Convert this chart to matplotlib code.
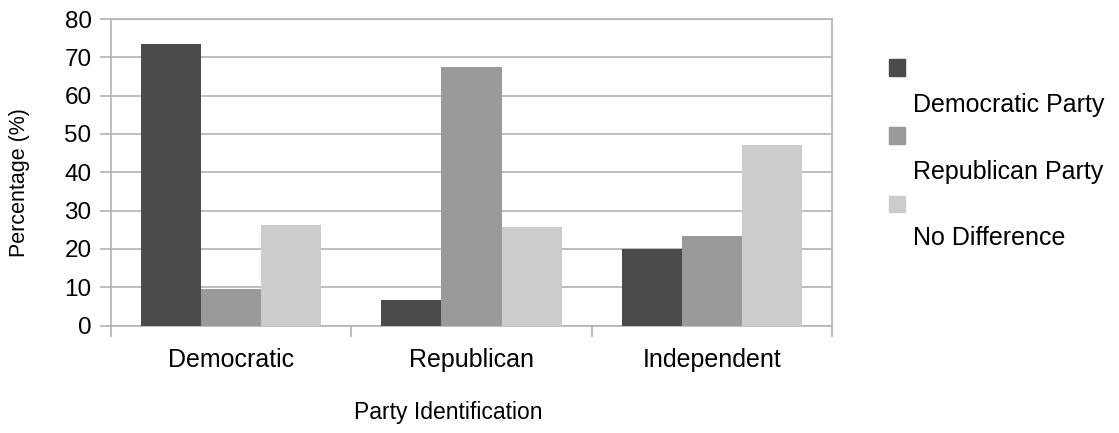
import numpy as np
import matplotlib.pyplot as plt
from matplotlib.patches import Rectangle

plt.rcParams['font.family'] = ['Liberation Sans', 'DejaVu Sans']

categories = ["Democratic", "Republican", "Independent"]
series_names = ["Democratic Party", "Republican Party", "No Difference"]
dem_party = [73.5, 6.6, 20.0]
rep_party = [9.6, 67.4, 23.3]
no_diff = [26.2, 25.7, 47.1]
series_values = [dem_party, rep_party, no_diff]
colors = ["#4b4b4b", "#9a9a9a", "#cccccc"]
yticks = list(range(0, 90, 10))

W, H = 1119, 433
fig = plt.figure(figsize=(W / 100, H / 100), dpi=100)
ax = fig.add_axes([111 / W, 1 - 325.5 / H, (832 - 111) / W, (325.5 - 19) / H])

x = np.arange(len(categories))
bw = 0.25
for i, (vals, col) in enumerate(zip(series_values, colors)):
    ax.bar(x + (i - 1) * bw, vals, width=bw, color=col, zorder=3)

ax.set_xlim(-0.5, len(categories) - 0.5)
ax.set_ylim(0, 80)
ax.set_yticks(yticks)
ax.set_xticks(x)
ax.set_xticklabels(categories, fontsize=18)
ax.set_xticks(np.arange(-0.5, len(categories)), minor=True)
ax.tick_params(axis='x', which='major', length=0, pad=16)
ax.tick_params(axis='x', which='minor', length=8, color="#b3b3b3", width=1.2)
ax.tick_params(axis='y', length=8, color="#b3b3b3", width=1.2, labelsize=17.5, pad=6)
ax.grid(axis='y', color="#b3b3b3", linewidth=1.2, zorder=0)

for side in ["left", "right", "top", "bottom"]:
    ax.spines[side].set_color("#b3b3b3")
    ax.spines[side].set_linewidth(1.2)

fig.text(20 / W, 1 - 183 / H, "Percentage (%)", rotation=90, fontsize=15.5,
         ha='center', va='center')
fig.text(448 / W, 1 - 412 / H, "Party Identification", fontsize=16.5,
         ha='center', va='center')

# legend: square above each label
sq_y = [67.5, 135.5, 204]
txt_y = [105, 172, 238]
for name, col, sy, ty in zip(series_names, colors, sq_y, txt_y):
    fig.add_artist(Rectangle((889 / W, 1 - (sy + 8) / H), 16 / W, 16 / H,
                             transform=fig.transFigure, color=col))
    fig.text(913 / W, 1 - ty / H, name, fontsize=18, ha='left', va='center')

fig.savefig("out.png", dpi=100)
